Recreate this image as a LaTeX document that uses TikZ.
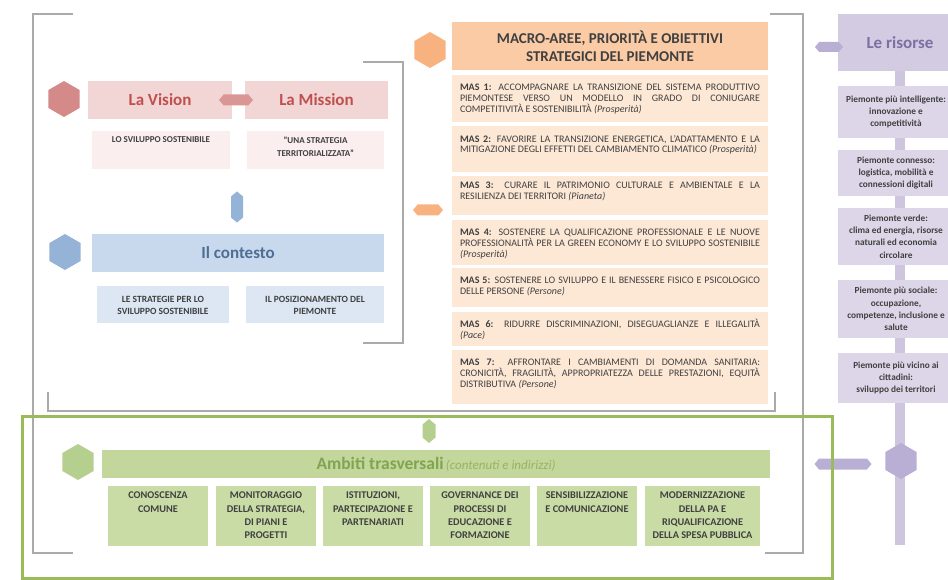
\documentclass[tikz,border=0pt]{standalone}
\usepackage{fontspec}
\setmainfont{Carlito}
\usepackage{tikz}
\usetikzlibrary{shapes.geometric, shapes.symbols, positioning}

\definecolor{framegray}{RGB}{170,170,170}
\definecolor{boxtext}{RGB}{64,64,64}
\definecolor{vishex}{RGB}{212,138,136}
\definecolor{vislink}{RGB}{217,150,148}
\definecolor{visfill}{RGB}{242,214,214}
\definecolor{vissub}{RGB}{250,238,238}
\definecolor{vistext}{RGB}{192,80,77}
\definecolor{conhex}{RGB}{149,179,215}
\definecolor{confill}{RGB}{200,217,238}
\definecolor{consub}{RGB}{221,231,243}
\definecolor{context}{RGB}{79,110,147}
\definecolor{orhex}{RGB}{247,178,128}
\definecolor{orhead}{RGB}{250,203,165}
\definecolor{orbox}{RGB}{253,232,214}
\definecolor{puspine}{RGB}{206,198,222}
\definecolor{puhead}{RGB}{210,203,225}
\definecolor{pubox}{RGB}{220,214,232}
\definecolor{putext}{RGB}{125,111,163}
\definecolor{puhex}{RGB}{185,174,212}
\definecolor{grframe}{RGB}{155,187,89}
\definecolor{grbar}{RGB}{195,214,155}
\definecolor{grbox}{RGB}{201,220,166}
\definecolor{grtext}{RGB}{128,165,80}
\definecolor{grital}{RGB}{150,180,100}
\definecolor{grhex}{RGB}{181,207,143}

\begin{document}
\begin{tikzpicture}[x=1pt, y=-1pt,
  hexa/.style={regular polygon, regular polygon sides=6, shape border rotate=30,
               minimum size=36pt, inner sep=0pt},
  hlink/.style={signal, signal to=east and west, signal pointer angle=100,
                inner sep=0pt, minimum height=11pt},
  vlink/.style={signal, signal to=north and south, signal pointer angle=100,
                inner sep=0pt, minimum width=12pt},
  panel/.style={inner sep=0pt, align=center},
  head/.style={panel, font=\fontsize{17}{20}\selectfont\bfseries},
  subtxt/.style={anchor=north, inner sep=0pt, yshift=-6pt, align=center, text=boxtext,
                 font=\fontsize{9.5}{12.5}\selectfont\bfseries},
  mastxt/.style={anchor=north, inner sep=0pt, yshift=-9pt, text width=300pt, align=justify,
                 text=boxtext, font=\fontsize{10}{10.8}\selectfont},
  restxt/.style={panel, text=boxtext, font=\fontsize{9.3}{12.3}\selectfont\bfseries},
  ambtxt/.style={anchor=north, inner sep=0pt, yshift=-6pt, align=center, text=boxtext,
                 font=\fontsize{10.3}{13.3}\selectfont\bfseries},
  frame/.style={draw=framegray, line width=1.2pt}]

  \useasboundingbox (0,0) rectangle (948,580);
  \clip (0,0) rectangle (948,580);

  % brackets around the blocks
  \draw[frame] (73,14) -| (33,553) -- (73,553);
  \draw[frame] (770,14) -| (803,553) -- (765,553);
  \draw[frame] (363,62) -| (403,343) -- (363,343);
  \draw[frame] (48,392) |- (775,411) -- (775,392);

  % vision and mission
  \node[hexa, fill=vishex] (vhex) at (64,99) {};
  \node[head, fill=visfill, text=vistext, minimum width=144pt, minimum height=38pt] (vision) at (160,100) {La Vision};
  \node[head, fill=visfill, text=vistext, minimum width=143pt, minimum height=38pt] (mission) at (316.5,100) {La Mission};
  \node[hlink, fill=vislink, minimum width=34pt] (vmlink) at (236,100) {};
  \node[panel, fill=vissub, minimum width=138pt, minimum height=38pt] (vsub) at (161,150) {};
  \node[panel, fill=vissub, minimum width=137pt, minimum height=38pt] (msub) at (315.5,150) {};
  \node[subtxt, font=\fontsize{9}{12.5}\selectfont\bfseries] (vsubt) at (vsub.north) {LO SVILUPPO SOSTENIBILE};
  \node[subtxt, font=\fontsize{9}{12.5}\selectfont\bfseries] (msubt) at (msub.north) {"UNA STRATEGIA\\TERRITORIALIZZATA"};

  % context
  \node[vlink, fill=conhex, minimum height=21pt] (vclink) at (237,207) {};
  \node[hexa, fill=conhex] (chex) at (65,252) {};
  \node[head, fill=confill, text=context, minimum width=292pt, minimum height=38pt] (contesto) at (238,253) {Il contesto};
  \node[panel, fill=consub, minimum width=132pt, minimum height=37pt] (csub1) at (163,304.5) {};
  \node[panel, fill=consub, minimum width=138pt, minimum height=37pt] (csub2) at (315,304.5) {};
  \node[subtxt, yshift=-4pt] (csub1t) at (csub1.north) {LE STRATEGIE PER LO\\SVILUPPO SOSTENIBILE};
  \node[subtxt, yshift=-4pt] (csub2t) at (csub2.north) {IL POSIZIONAMENTO DEL\\PIEMONTE};

  % macro-aree
  \node[hexa, fill=orhex] (ohex) at (430,50) {};
  \node[panel, fill=orhead, text=boxtext, font=\fontsize{15}{18}\selectfont\bfseries,
        minimum width=316pt, minimum height=48pt] (macro) at (610,46) {MACRO-AREE, PRIORITÀ E OBIETTIVI\\STRATEGICI DEL PIEMONTE};
  \node[panel, fill=orbox, minimum width=316pt, minimum height=47pt] (mas1) at (610,98.5) {};
  \node[panel, fill=orbox, minimum width=316pt, minimum height=46pt] (mas2) at (610,149) {};
  \node[panel, fill=orbox, minimum width=316pt, minimum height=39pt] (mas3) at (610,195.5) {};
  \node[panel, fill=orbox, minimum width=316pt, minimum height=45pt] (mas4) at (610,242.5) {};
  \node[panel, fill=orbox, minimum width=316pt, minimum height=39pt] (mas5) at (610,287.5) {};
  \node[panel, fill=orbox, minimum width=316pt, minimum height=34pt] (mas6) at (610,329) {};
  \node[panel, fill=orbox, minimum width=316pt, minimum height=54pt] (mas7) at (610,377) {};
  \node[mastxt] (mas1t) at (mas1.north) {\textbf{MAS 1:} ACCOMPAGNARE LA TRANSIZIONE DEL SISTEMA PRODUTTIVO\linebreak
    PIEMONTESE VERSO UN MODELLO IN GRADO DI CONIUGARE\linebreak COMPETITIVITÀ E SOSTENIBILITÀ \textit{(Prosperità)}};
  \node[mastxt] (mas2t) at (mas2.north) {\textbf{MAS 2:} FAVORIRE LA TRANSIZIONE ENERGETICA, L'ADATTAMENTO E LA\linebreak
    MITIGAZIONE DEGLI EFFETTI DEL CAMBIAMENTO CLIMATICO \textit{(Prosperità)}};
  \node[mastxt, yshift=3pt] (mas3t) at (mas3.north) {\textbf{MAS 3:} CURARE IL PATRIMONIO CULTURALE E AMBIENTALE E LA\linebreak
    RESILIENZA DEI TERRITORI \textit{(Pianeta)}};
  \node[mastxt] (mas4t) at (mas4.north) {\textbf{MAS 4:} SOSTENERE LA QUALIFICAZIONE PROFESSIONALE E LE NUOVE\linebreak
    PROFESSIONALITÀ PER LA GREEN ECONOMY E LO SVILUPPO SOSTENIBILE\linebreak \textit{(Prosperità)}};
  \node[mastxt] (mas5t) at (mas5.north) {\textbf{MAS 5:} SOSTENERE LO SVILUPPO E IL BENESSERE FISICO E PSICOLOGICO\linebreak
    DELLE PERSONE \textit{(Persone)}};
  \node[mastxt, yshift=2pt] (mas6t) at (mas6.north) {\textbf{MAS 6:} RIDURRE DISCRIMINAZIONI, DISEGUAGLIANZE E ILLEGALITÀ\linebreak
    \textit{(Pace)}};
  \node[mastxt] (mas7t) at (mas7.north) {\textbf{MAS 7:} AFFRONTARE I CAMBIAMENTI DI DOMANDA SANITARIA:\linebreak
    CRONICITÀ, FRAGILITÀ, APPROPRIATEZZA DELLE PRESTAZIONI, EQUITÀ\linebreak DISTRIBUTIVA \textit{(Persone)}};
  \node[hlink, fill=orhex, minimum width=30pt] (omlink) at (428,210) {};

  % resources column
  \coordinate (sptop) at (900,14);
  \coordinate (spbot) at (900,545);
  \draw[puspine, line width=10pt] (sptop) -- (spbot);
  \node[head, fill=puhead, text=putext, minimum width=124pt, minimum height=57pt] (risorse) at (900,42.5) {Le risorse};
  \node[restxt, fill=pubox, minimum width=116pt, minimum height=52pt] (res1) at (896,112) {Piemonte più intelligente:\\innovazione e\\competitività};
  \node[restxt, fill=pubox, minimum width=116pt, minimum height=46pt] (res2) at (896,173) {Piemonte connesso:\\logistica, mobilità e\\connessioni digitali};
  \node[restxt, fill=pubox, minimum width=116pt, minimum height=57pt] (res3) at (896,236.5) {Piemonte verde:\\clima ed energia, risorse\\naturali ed economia\\circolare};
  \node[restxt, fill=pubox, minimum width=116pt, minimum height=58pt] (res4) at (896,309) {Piemonte più sociale:\\occupazione,\\competenze, inclusione e\\salute};
  \node[restxt, fill=pubox, minimum width=116pt, minimum height=50pt] (res5) at (896,378) {Piemonte più vicino ai\\cittadini:\\sviluppo dei territori};
  \node[hlink, fill=puhex, minimum width=28pt, minimum height=10pt] (reslink) at (829,47) {};
  \node[hexa, fill=puhex] (phex) at (901,461) {};
  \node[hlink, fill=puhex, minimum width=57pt] (amblink) at (843,464) {};

  % transversal areas
  \draw[grframe, line width=3pt] (22,416) rectangle (832,578);
  \node[vlink, fill=grhex, minimum width=13pt, minimum height=13pt] (glink) at (429,431) {};
  \node[hexa, fill=grhex] (ghex) at (78,462) {};
  \node[panel, fill=grbar, minimum width=668pt, minimum height=28pt] (ambiti) at (436,464)
    {\textcolor{grtext}{\fontsize{17.5}{20}\selectfont\bfseries Ambiti trasversali} \textcolor{grital}{\fontsize{13}{14}\selectfont\itshape (contenuti e indirizzi)}};
  \node[panel, fill=grbox, minimum width=100pt, minimum height=60pt] (amb1) at (158,516) {};
  \node[panel, fill=grbox, minimum width=100pt, minimum height=60pt] (amb2) at (266,516) {};
  \node[panel, fill=grbox, minimum width=100pt, minimum height=60pt] (amb3) at (373,516) {};
  \node[panel, fill=grbox, minimum width=100pt, minimum height=60pt] (amb4) at (480,516) {};
  \node[panel, fill=grbox, minimum width=100pt, minimum height=60pt] (amb5) at (587,516) {};
  \node[panel, fill=grbox, minimum width=115pt, minimum height=60pt] (amb6) at (702.5,516) {};
  \node[ambtxt] (amb1t) at (amb1.north) {CONOSCENZA\\COMUNE};
  \node[ambtxt] (amb2t) at (amb2.north) {MONITORAGGIO\\DELLA STRATEGIA,\\DI PIANI E\\PROGETTI};
  \node[ambtxt] (amb3t) at (amb3.north) {ISTITUZIONI,\\PARTECIPAZIONE E\\PARTENARIATI};
  \node[ambtxt] (amb4t) at (amb4.north) {GOVERNANCE DEI\\PROCESSI DI\\EDUCAZIONE E\\FORMAZIONE};
  \node[ambtxt] (amb5t) at (amb5.north) {SENSIBILIZZAZIONE\\E COMUNICAZIONE};
  \node[ambtxt] (amb6t) at (amb6.north) {MODERNIZZAZIONE\\DELLA PA E\\RIQUALIFICAZIONE\\DELLA SPESA PUBBLICA};
\end{tikzpicture}
\end{document}
